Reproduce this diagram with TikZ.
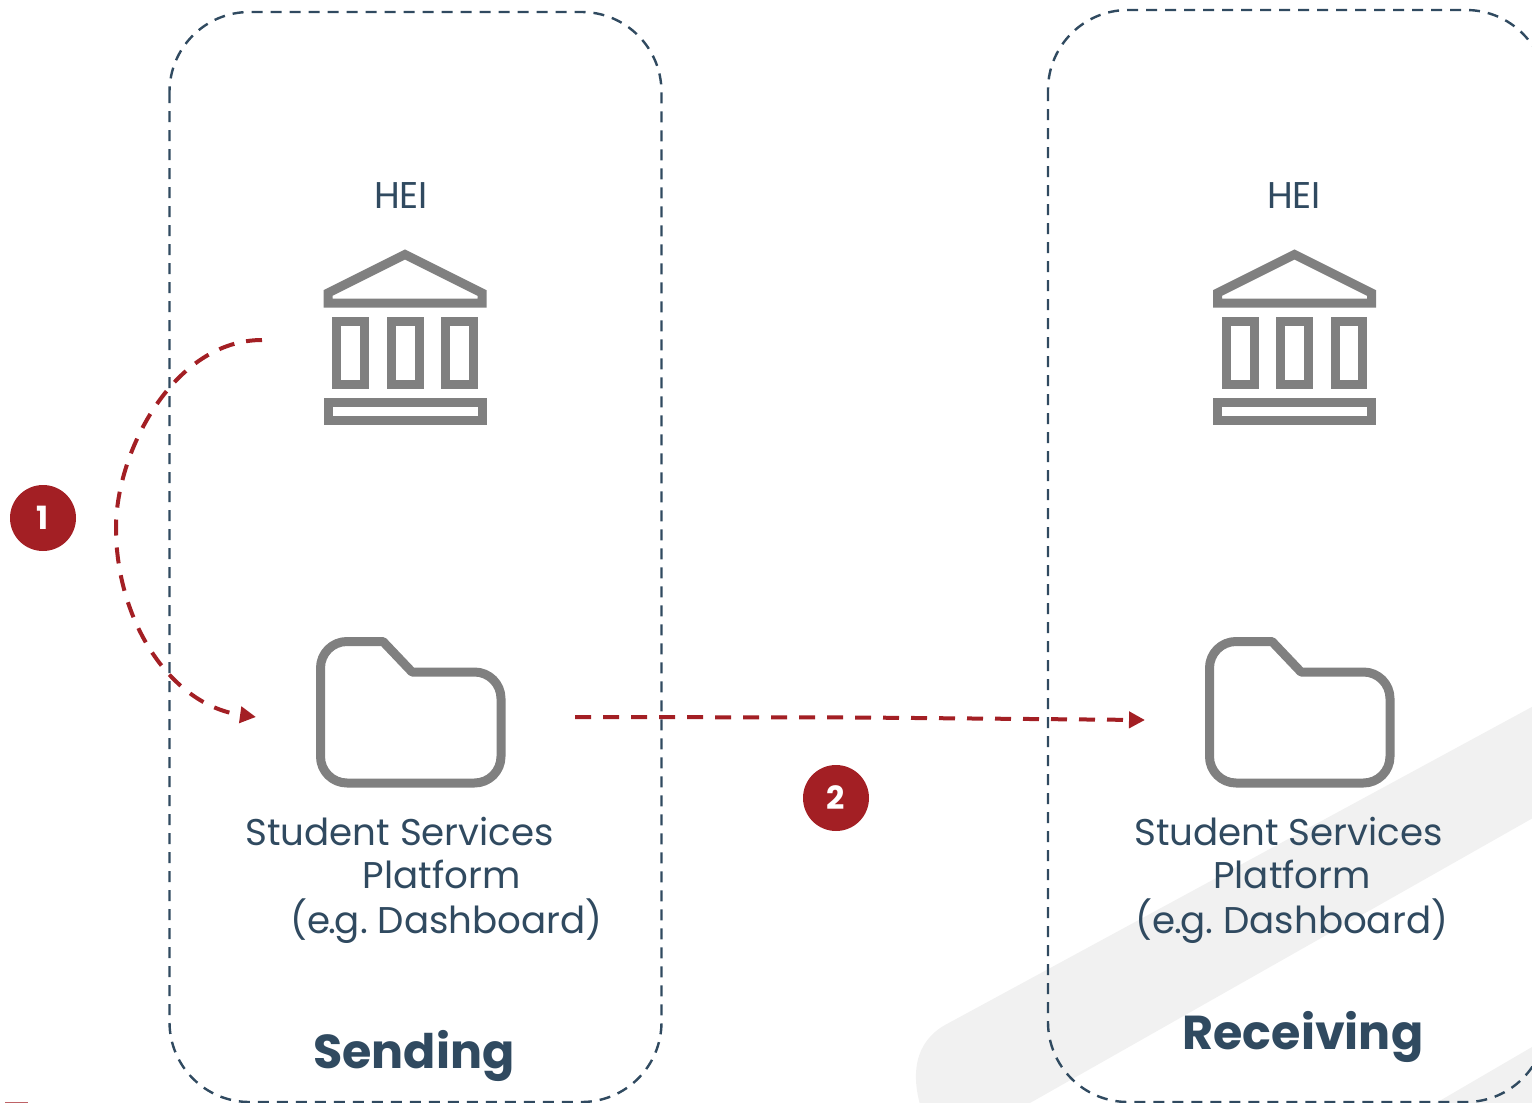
\documentclass[tikz,border=0pt]{standalone}
\usepackage{fontspec}
\setmainfont{Poppins}
\usepackage{xcolor}
\usetikzlibrary{arrows.meta}
\definecolor{ink}{HTML}{304A60}
\definecolor{iconc}{HTML}{808080}
\definecolor{wine}{HTML}{A31F24}
\definecolor{band}{HTML}{F1F1F1}
\newcommand{\egdash}{(e\kern-.8pt.\kern-.8pt g.\ Dashboard)}
\tikzset{
  zone/.style={draw=ink, line width=1.2pt, dash pattern=on 5.5pt off 4pt, rounded corners=40pt},
  icon/.style={draw=iconc, line width=4.5pt},
  flow/.style={draw=wine, line width=2pt, dash pattern=on 8pt off 6pt, -{Triangle[length=8pt,width=8pt]}},
  lbl/.style={text=ink, font=\fontsize{18.6}{22}\selectfont, anchor=base, inner sep=0pt},
  side/.style={text=ink, font=\fontsize{23.8}{28}\selectfont\bfseries, anchor=base, inner sep=0pt},
  num/.style={circle, fill=wine, text=white, minimum size=33pt, inner sep=0pt, font=\fontsize{16}{18}\selectfont\bfseries}
}
\begin{document}
\begin{tikzpicture}[x=0.5pt,y=-0.5pt]
\clip (0,0) rectangle (1532,1103);

% background bands
\fill[band] (1600,670) -- (945,1025) .. controls (915,1042) and (908,1075) .. (925,1120) -- (1000,1120) -- (1600,780) -- cycle;
\fill[band] (1436,1103) -- (1532,1047) -- (1532,1103) -- cycle;
\fill[wine!70] (5,1101.5) rectangle (28,1103);

% sending and receiving zones
\draw[zone] (169.5,12) rectangle (661.5,1102);
\draw[zone] (1048,10) rectangle (1546,1102);

% temple and folder icons
\foreach \dx/\fx in {0/0,889.5/889}{
  \begin{scope}[xshift=\dx*0.5pt]
    \draw[icon, miter limit=3] (405,254.5) -- (482,293) -- (482,303) -- (328,303) -- (328,293) -- cycle;
    \draw[icon] (336.5,321.5) rectangle (364.5,384.5);
    \draw[icon] (391,321.5) rectangle (419,384.5);
    \draw[icon] (445.5,321.5) rectangle (473,384.5);
    \draw[icon] (328,402) rectangle (482,420.5);
  \end{scope}
  \begin{scope}[xshift=\fx*0.5pt]
    \draw[icon, line join=round] (383,641.5) -- (412,672) -- (474.5,672)
      arc[start angle=90,end angle=0,x radius=26.5,y radius=-26.5] -- (501,756.5)
      arc[start angle=0,end angle=-90,x radius=26.5,y radius=-26.5] -- (347,783)
      arc[start angle=-90,end angle=-180,x radius=26.5,y radius=-26.5] -- (320.5,668)
      arc[start angle=180,end angle=90,x radius=26.5,y radius=-26.5] -- cycle;
  \end{scope}
}

% labels
\node[lbl] (heia) at (401,208) {HEI};
\node[lbl] (heib) at (1294,208) {HEI};
\node[lbl, anchor=base west] (ssa1) at (245,845) {Student Services};
\node[lbl, anchor=base west] (ssa2) at (362.5,888) {Platform};
\node[lbl, anchor=base west] (ssa3) at (290,933) {\egdash};
\node[lbl] (ssb1) at (1288.5,845) {Student Services};
\node[lbl] (ssb2) at (1292,888) {Platform};
\node[lbl] (ssb3) at (1292,933) {\egdash};
\node[side] (send) at (414,1068) {Sending};
\node[side] (recv) at (1303,1049) {Receiving};

% steps
\node[num] (one) at (43,518) {1};
\node[num] (two) at (836,798) {2};

\coordinate (fromhei) at (262,340);
\coordinate (topf) at (256,717);
\coordinate (fromf) at (575,717);
\coordinate (bend) at (858,717.5);
\coordinate (tob) at (1145,720);
\draw[flow] (fromhei) .. controls (175,340) and (116,450) .. (116,528) .. controls (116,620) and (170,705) .. (topf);
\draw[flow] (fromf) -- (bend) -- (tob);
\end{tikzpicture}
\end{document}
